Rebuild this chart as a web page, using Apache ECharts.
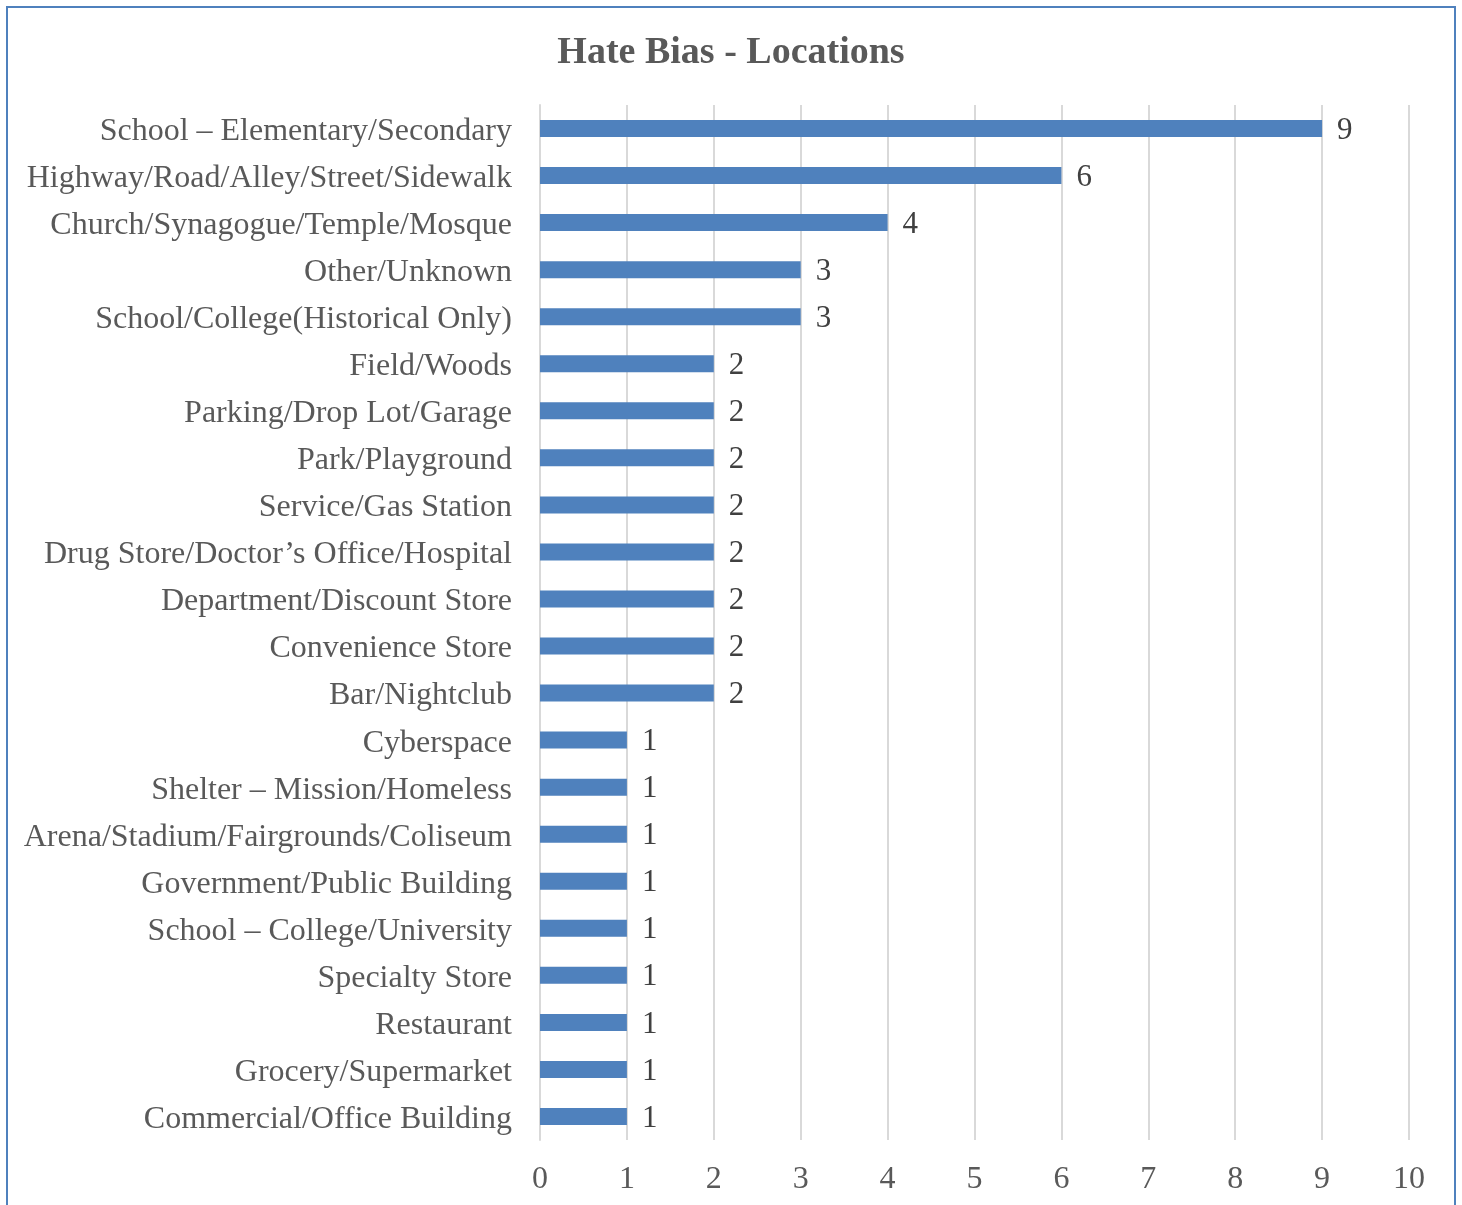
<!DOCTYPE html>
<html><head><meta charset="utf-8">
<script src="https://cdn.jsdelivr.net/npm/echarts@6/dist/echarts.min.js"></script>
<style>html,body{margin:0;padding:0;background:#fff}#frame{position:absolute;left:6px;top:6px;width:1450px;height:1210px;border:2px solid #4f81bd;box-sizing:border-box}#c{position:absolute;left:0;top:0;width:1462px;height:1205px}</style>
</head><body><div id="frame"></div><div id="c"></div>
<script>
const categories = [
 "School – Elementary/Secondary","Highway/Road/Alley/Street/Sidewalk","Church/Synagogue/Temple/Mosque",
 "Other/Unknown","School/College(Historical Only)","Field/Woods","Parking/Drop Lot/Garage",
 "Park/Playground","Service/Gas Station","Drug Store/Doctor’s Office/Hospital","Department/Discount Store",
 "Convenience Store","Bar/Nightclub","Cyberspace","Shelter – Mission/Homeless",
 "Arena/Stadium/Fairgrounds/Coliseum","Government/Public Building","School – College/University",
 "Specialty Store","Restaurant","Grocery/Supermarket","Commercial/Office Building"];
const values = [9,6,4,3,3,2,2,2,2,2,2,2,2,1,1,1,1,1,1,1,1,1];
const xTicks = [0,1,2,3,4,5,6,7,8,9,10];
const chart = echarts.init(document.getElementById('c'));
const font = '"Liberation Serif","Times New Roman",serif';
chart.setOption({
  animation:false,
  title:{text:'Hate Bias - Locations',left:'center',top:29,textStyle:{fontFamily:font,fontSize:38,fontWeight:'bold',color:'#595959'}},
  grid:{left:540,right:53,top:105,bottom:65,containLabel:false},
  xAxis:{type:'value',min:xTicks[0],max:xTicks[xTicks.length-1],interval:1,
    axisLine:{show:false},axisTick:{show:false},
    splitLine:{show:true,lineStyle:{color:'#d9d9d9',width:2}},
    axisLabel:{fontFamily:font,fontSize:32,color:'#595959',margin:24}},
  yAxis:{type:'category',data:categories,inverse:true,
    axisLine:{show:true,lineStyle:{color:'#d9d9d9',width:2}},axisTick:{show:false},
    axisLabel:{margin:28,formatter:v=>'{a|'+v+'}',
      rich:{a:{fontFamily:font,fontSize:32,color:'#595959',padding:[6,0,0,0]}}}},
  series:[{type:'bar',data:values,barWidth:17,itemStyle:{color:'#4f81bd'},
    label:{show:true,position:'right',distance:15,fontFamily:font,fontSize:31,color:'#404040',offset:[0,2]}}]
});
</script></body></html>
